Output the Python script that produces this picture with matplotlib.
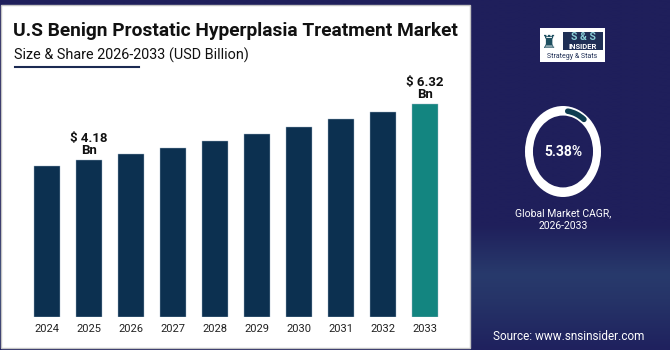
import numpy as np
import matplotlib
matplotlib.use("Agg")
import matplotlib.pyplot as plt
from matplotlib import patches

plt.rcParams['font.family'] = ['Roboto', 'DejaVu Sans']

# data
years = ['2024', '2025', '2026', '2027', '2028', '2029', '2030', '2031', '2032', '2033']
market_size = [3.95, 4.18, 4.41, 4.64, 4.91, 5.17, 5.44, 5.75, 6.01, 6.32]
labelled = {'2025': '$ 4.18\nBn', '2033': '$ 6.32\nBn'}
cagr = '5.38%'

NAVY = '#1f1f5b'
BAR = '#0c3050'
LAST = '#138580'

W, H = 670, 350
fig = plt.figure(figsize=(W / 100, H / 100), dpi=100)

def fx(px):
    return px / W

def fy(py):
    return 1 - py / H

# background with the lighter band on the lower right
bg = fig.add_axes([0, 0, 1, 1])
bg.set_axis_off()
rows = np.linspace(0, H, 200)
stops_y = [0, 225, 275, 300, 350]
stops = np.array([[31, 31, 91], [31, 31, 91], [40, 58, 108], [38, 52, 104], [31, 33, 94]]) / 255
grad = np.stack([np.interp(rows, stops_y, stops[:, i]) for i in range(3)], axis=1)
bg.imshow(grad[:, None, :], aspect='auto', extent=[0, 1, 0, 1])
bg.set_xlim(0, 1)
bg.set_ylim(0, 1)

# white panel
bg.add_patch(patches.Rectangle((fx(1), fy(348)), fx(469), (348 - 5) / H,
                               facecolor='white', edgecolor='#c4c4c4', lw=1, zorder=2))
bg.plot([fx(15), fx(139)], [fy(67), fy(67)], color='#1b2a52', lw=1.5, zorder=3)

fig.text(fx(13), fy(31), 'U.S Benign Prostatic Hyperplasia Treatment Market',
         fontsize=13.8, fontweight='bold', color='#111111', va='center', ha='left')
fig.text(fx(14), fy(55), 'Size & Share 2026-2033 (USD Billion)',
         fontsize=10.4, color='#111111', va='center', ha='left')

# bars
base = -1.82
ax = fig.add_axes([fx(20), 33 / H, 435 / W, 247 / H])
ax.set_facecolor('none')
x = np.arange(len(years))
heights = np.array(market_size) - base
colors = [BAR] * (len(years) - 1) + [LAST]
ax.bar(x, heights, bottom=base, width=0.62, color=colors, edgecolor='#9fb6c8', linewidth=0.3)
for i, y in enumerate(years):
    if y in labelled:
        ax.annotate(labelled[y], (x[i], market_size[i]), xytext=(0, 2), textcoords='offset points',
                    ha='center', va='bottom', fontsize=9.5, fontweight='bold',
                    color='#111111', linespacing=0.9)
ax.set_xlim(-27 / 42, 9 + 30 / 42)
ax.set_ylim(base, 7.62)
ax.set_xticks(x, labels=years, fontsize=8, color='#222222')
ax.tick_params(axis='x', length=0, pad=5)
ax.set_yticks([])
for s in ax.spines.values():
    s.set_visible(False)

# logo
bg.add_patch(patches.Rectangle((fx(540), fy(62)), fx(65), 34 / H, facecolor='white', zorder=3))
bg.add_patch(patches.Rectangle((fx(563), fy(50)), fx(40), 18 / H, facecolor='#1f2f55', zorder=4))
fig.text(fx(549), fy(43), '\u265c', fontsize=13, color='#1e4f60', ha='center', va='center',
         family=['DejaVu Sans'])
fig.text(fx(583), fy(37), 'S & S', fontsize=7.5, fontweight='bold', color='#8ad0d8',
         ha='center', va='center')
fig.text(fx(583), fy(46.5), 'INSIDER', fontsize=5.5, fontweight='bold', color='white',
         ha='center', va='center')
fig.text(fx(572), fy(56.5), 'Strategy & Stats', fontsize=5, color='#1f2f55',
         ha='center', va='center')

# CAGR ring
dax = fig.add_axes([fx(525), fy(197), 76 / W, 91 / H])
dax.set_axis_off()
dax.set_xlim(-1, 1)
dax.set_ylim(-1, 1)
dax.add_patch(patches.Wedge((0, 0), 1, 0, 360, width=0.21, facecolor='white'))
dax.add_patch(patches.Arc((0, 0), 1.79, 1.79, theta1=52, theta2=82,
                          color='#0e3d50', lw=4, capstyle='round'))
dax.text(0, 0, cagr, fontsize=10, fontweight='bold', color='white', ha='center', va='center')

fig.text(fx(563), fy(213), 'Global Market CAGR,', fontsize=7.5, color='white',
         ha='center', va='center')
fig.text(fx(563), fy(226), '2026-2033', fontsize=7.5, color='white', ha='center', va='center')

fig.text(fx(569), fy(337), 'Source: www.snsinsider.com', fontsize=8.5, color='white',
         ha='center', va='center')

fig.savefig('out.png', dpi=100)
